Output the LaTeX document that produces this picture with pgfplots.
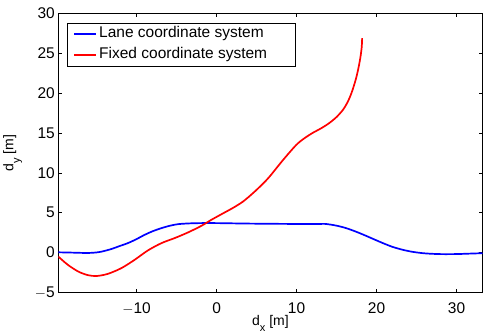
\documentclass[border=0pt]{standalone}
\usepackage{fontspec}
\setmainfont{Liberation Sans}
\usepackage{pgfplots}
\pgfplotsset{compat=1.18}
\begin{document}
\begin{tikzpicture}
\begin{axis}[
  scale only axis,
  width=424.5bp, height=279.4bp,
  xmin=-19.8, xmax=33.25, ymin=-5, ymax=30,
  xtick={-10,0,10,20,30}, xticklabels={$-$10,0,10,20,30},
  ytick={-5,0,5,10,15,20,25,30}, yticklabels={$-$5,0,5,10,15,20,25,30},
  tick align=inside, major tick length=4bp,
  axis line style={line width=0.7pt},
  every tick/.style={line width=0.6pt, black},
  ticklabel style={font=\fontsize{15.5bp}{18bp}\selectfont},
  xticklabel style={yshift=-7bp},
  xlabel={d\raisebox{-6.5bp}{\fontsize{11bp}{11bp}\selectfont x} [m]},
  ylabel={d\raisebox{-6.5bp}{\fontsize{11bp}{11bp}\selectfont y} [m]},
  label style={font=\fontsize{14bp}{16bp}\selectfont},
  xlabel style={yshift=7bp},
  ylabel style={yshift=6bp},
  legend cell align=left,
  legend style={at={(0.0198,0.967)}, anchor=north west, draw=black, line width=0.6pt,
    font=\fontsize{15.5bp}{18bp}\selectfont, inner xsep=6.6bp, inner ysep=1bp, row sep=0bp,
    nodes={inner ysep=2.85bp, text height=11bp, text depth=4bp}},
  legend image code/.code={\draw[#1] (0bp,0bp) -- (22bp,0bp);},
]
\addplot[blue, line width=1.7bp, smooth] coordinates {
(-19.8,0.04) (-18,0.0) (-16.5,-0.04) (-15.5,-0.02) (-14.5,0.1) (-13.2,0.44)
(-12.2,0.8) (-11.1,1.19) (-10,1.7) (-9,2.23) (-8,2.68) (-6.9,3.07) (-5.8,3.38)
(-4.8,3.57) (-3.5,3.66) (-2,3.7) (0,3.7) (4,3.64) (9,3.6) (13,3.6) (13.7,3.59)
(15,3.38) (16.2,3.07) (17.5,2.6) (18.7,2.1) (19.8,1.62) (20.8,1.19) (22,0.72)
(23.3,0.35) (24.5,0.1) (25.8,-0.07) (27,-0.15) (28.3,-0.19) (30,-0.18) (31.5,-0.13) (33.25,-0.07)};
\addlegendentry{Lane coordinate system}
\addplot[red, line width=1.7bp, smooth] coordinates {
(-19.8,-0.49) (-18.6,-1.53) (-17.3,-2.37) (-16.1,-2.82) (-15,-2.93) (-13.6,-2.66)
(-11.9,-1.94) (-10.25,-0.9) (-8.6,0.27) (-6.9,1.19) (-5.25,1.82) (-3.6,2.52)
(-1.9,3.36) (-0.66,4.11) (1.0,5.03) (2.04,5.6) (3.3,6.4) (4.54,7.45) (5.6,8.45) (6.6,9.5)
(8.3,11.6) (9.96,13.5) (11,14.35) (12.0,15.0) (13.1,15.6) (14.1,16.25) (15.0,17.0)
(15.8,17.9) (16.4,18.9) (16.9,20.1) (17.4,21.7) (17.75,23.2) (18.0,24.6) (18.15,25.8) (18.2,26.9)};
\addlegendentry{Fixed coordinate system\rule{20bp}{0bp}}
\end{axis}
\pgfresetboundingbox
\path[use as bounding box] ([xshift=-58.3bp,yshift=-43.3bp]current axis.south west) rectangle ([xshift=0.5bp,yshift=13.3bp]current axis.north east);
\end{tikzpicture}
\end{document}
